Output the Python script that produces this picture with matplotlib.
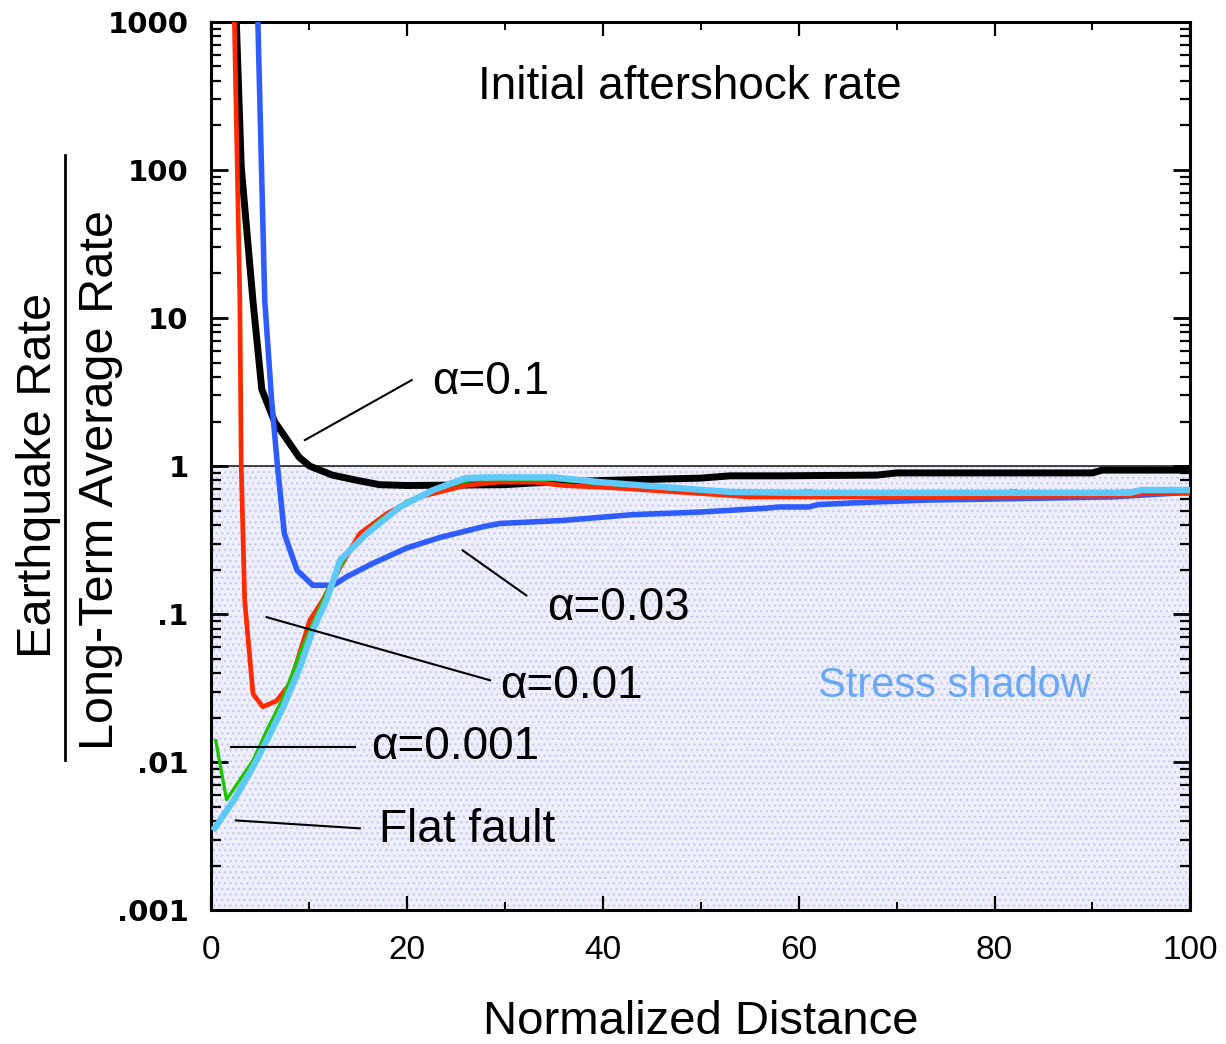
import matplotlib
matplotlib.use("Agg")
import matplotlib.pyplot as plt
import numpy as np

# normalized distance vs rate ratio for each curve
black_x = [2.6, 3.1, 4.3, 5.2, 6.5, 7.8, 9.0, 10.1, 12.4, 15, 17.2, 20, 30, 33, 40, 50, 53, 58, 68, 70, 90, 91, 100]
black_y = [1000, 105, 13, 3.3, 2.0, 1.5, 1.15, 1.0, 0.87, 0.8, 0.75, 0.74, 0.75, 0.77, 0.80, 0.83, 0.86, 0.86, 0.87, 0.90, 0.90, 0.94, 0.94]

blue_x = [4.8, 5.5, 6.2, 6.8, 7.5, 8.8, 10.4, 12.5, 13.8, 16.5, 20, 23.4, 27.8, 29.5, 36, 43, 50, 56.7, 58, 61, 62, 67, 73, 80, 92, 99, 100]
blue_y = [1000, 13.2, 2.8, 1.0, 0.35, 0.198, 0.157, 0.157, 0.178, 0.22, 0.28, 0.33, 0.39, 0.41, 0.43, 0.47, 0.49, 0.52, 0.53, 0.53, 0.55, 0.57, 0.59, 0.60, 0.62, 0.66, 0.66]

red_x = [2.4, 2.96, 3.1, 3.45, 4.3, 5.3, 6.7, 8.1, 10.1, 11.4, 13.2, 15.2, 18, 21.3, 26, 29.5, 33, 36, 41.7, 49, 55, 70, 93, 95, 100]
red_y = [1000, 13, 1.0, 0.124, 0.029, 0.0237, 0.026, 0.034, 0.091, 0.124, 0.208, 0.35, 0.48, 0.62, 0.74, 0.78, 0.78, 0.74, 0.71, 0.66, 0.62, 0.62, 0.63, 0.65, 0.66]

green_x = [0.5, 1.6, 2.96, 4.3, 5.7, 7.4, 9.1, 10.5, 12, 14, 17, 20, 23, 26, 28, 35, 40, 47, 53, 58, 61, 63, 80, 82, 84, 86, 95, 100]
green_y = [0.014, 0.0056, 0.0076, 0.0103, 0.0164, 0.0275, 0.055, 0.09, 0.15, 0.26, 0.42, 0.58, 0.70, 0.79, 0.82, 0.81, 0.76, 0.71, 0.67, 0.66, 0.68, 0.66, 0.66, 0.68, 0.66, 0.66, 0.68, 0.69]

flat_x = [0.4, 2.3, 4.3, 5.7, 7.4, 9.1, 10.4, 11.8, 13.2, 15.9, 19.3, 22.7, 26, 28, 35, 39.7, 46.5, 53, 60, 93.8, 95, 100]
flat_y = [0.0036, 0.0055, 0.0093, 0.014, 0.0237, 0.044, 0.078, 0.124, 0.232, 0.35, 0.53, 0.69, 0.83, 0.84, 0.84, 0.78, 0.72, 0.67, 0.66, 0.66, 0.69, 0.69]

yticks = [0.001, 0.01, 0.1, 1, 10, 100, 1000]
ytick_labels = ['.001', '.01', '.1', '1', '10', '100', '1000']
xticks = [0, 20, 40, 60, 80, 100]

sans = ['Liberation Sans', 'DejaVu Sans']

fig = plt.figure(figsize=(12.26, 10.44), dpi=100)
ax = fig.add_axes([0.172, 0.128, 0.799, 0.851])

ax.set_yscale('log')
ax.set_xlim(0, 100)
ax.set_ylim(0.001, 1000)

# stress shadow region below the long-term rate
ax.axhspan(0.001, 1, facecolor='#eeeffb', edgecolor='#c8ccf2', hatch='...', linewidth=0, zorder=0)
ax.axhline(1, color='#222222', lw=1.2, zorder=1)

ax.plot(black_x, black_y, color='black', lw=5.0, zorder=2)
ax.plot(blue_x, blue_y, color='#2f5cff', lw=4.0, zorder=3)
ax.plot(red_x, red_y, color='#ff2a00', lw=3.4, zorder=4)
ax.plot(green_x, green_y, color='#1fc400', lw=2.4, zorder=5)
ax.plot(flat_x, flat_y, color='#5ec8f8', lw=4.6, zorder=6)

# labels with leader lines
def tag(x0, y0, x1, y1, tx, ty, s):
    ax.plot([x0, x1], [y0, y1], color='black', lw=1.5, zorder=7)
    ax.text(tx, ty, s, fontsize=33, family=sans, va='center', ha='left', zorder=8)

tag(9.6, 1.5, 20.5, 3.81, 22.6, 3.7, 'α=0.1')
tag(25.7, 0.27, 32.2, 0.134, 34.3, 0.11, 'α=0.03')
tag(5.7, 0.0955, 28.5, 0.0358, 29.5, 0.033, 'α=0.01')
tag(2.1, 0.0126, 14.7, 0.0126, 16.4, 0.0126, 'α=0.001')
tag(2.55, 0.00405, 15.2, 0.00358, 17.2, 0.0035, 'Flat fault')

ax.text(48.9, 364, 'Initial aftershock rate', fontsize=33, family=sans, ha='center', va='center')
ax.text(75.9, 0.0327, 'Stress shadow', fontsize=30, family=sans, color='#6aa8f5', ha='center', va='center')

ax.set_yticks(yticks)
ax.set_yticklabels(ytick_labels, fontsize=21, family='DejaVu Sans', fontweight='bold')
ax.set_xticks(xticks)
ax.set_xticks([10, 30, 50, 70, 90], minor=True)
ax.set_xticklabels([str(v) for v in xticks], fontsize=24, family=sans)

ax.tick_params(axis='y', which='major', direction='in', length=12, width=2, right=True, pad=16)
ax.tick_params(axis='y', which='minor', direction='in', length=7, width=1.6, right=True)
ax.tick_params(axis='x', which='major', direction='in', length=10, width=1.6, top=True, pad=18)
ax.tick_params(axis='x', which='minor', direction='in', length=6, width=1.4, top=True)
for sp in ax.spines.values():
    sp.set_linewidth(2.2)

ax.set_xlabel('Normalized Distance', fontsize=34, family=sans, labelpad=24)

# fraction-style y label
fig.text(0.031, 0.545, 'Earthquake Rate', rotation=90, fontsize=35, family=sans, ha='center', va='center')
fig.text(0.082, 0.54, 'Long-Term Average Rate', rotation=90, fontsize=35, family=sans, ha='center', va='center')
fig.add_artist(plt.Line2D([0.053, 0.053], [1 - 760 / 1044, 1 - 155 / 1044], color='black', lw=2, transform=fig.transFigure))

fig.savefig('out.png', dpi=100)
